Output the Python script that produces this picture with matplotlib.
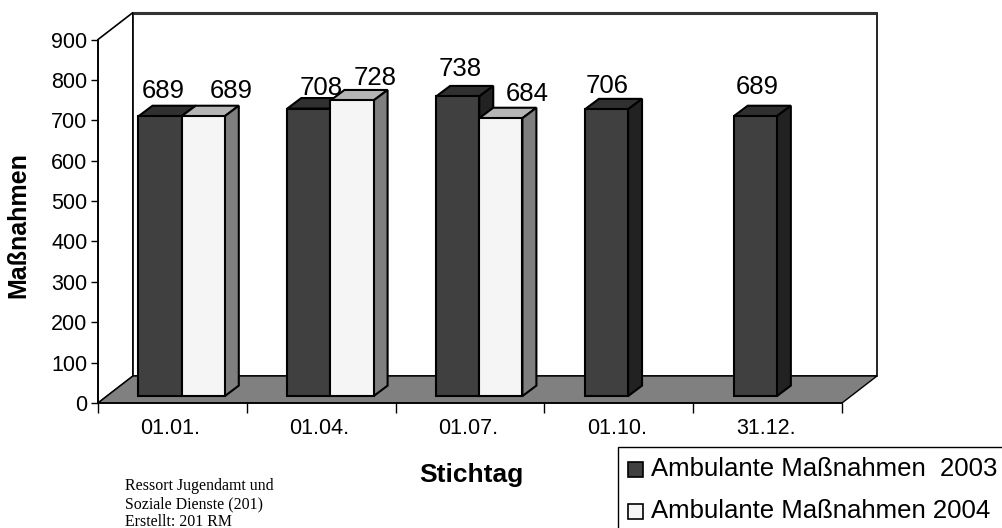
#!/usr/bin/env python3
import matplotlib
matplotlib.use("Agg")
import matplotlib.pyplot as plt
from matplotlib.patches import Polygon, Rectangle

categories = ["01.01.", "01.04.", "01.07.", "01.10.", "31.12."]
values_2003 = [689, 708, 738, 706, 689]
values_2004 = [689, 728, 684]
yticks = [0, 100, 200, 300, 400, 500, 600, 700, 800, 900]
legend_labels = ["Ambulante Maßnahmen  2003", "Ambulante Maßnahmen 2004"]
note_lines = ["Ressort Jugendamt und", "Soziale Dienste (201)", "Erstellt: 201 RM"]

# label nudges in pixels: (right, up) from the bar's top front centre
nudge_2003 = [(3, 18), (12.5, 14), (2.5, 20), (0.5, 16), (1.5, 22)]
nudge_2004 = [(28, 18), (23.5, 15), (26.5, 17)]

W, H = 1002, 528
LEFT, RIGHT, TOP, BOTTOM = 98, 842, 39.5, 403
DEPTH_X, DEPTH_Y = 35, 27

plt.rcParams["font.family"] = ["Liberation Sans", "DejaVu Sans"]

fig = plt.figure(figsize=(W / 100, H / 100), dpi=100)
ax = fig.add_axes([LEFT / W, 1 - BOTTOM / H, (RIGHT - LEFT) / W, (BOTTOM - TOP) / H])
ax.set_xlim(0, len(categories))
ax.set_ylim(0, 900)

px_x = (RIGHT - LEFT) / len(categories)
px_y = (BOTTOM - TOP) / 900


def shift(x, y, dx=0, dy=0):
    # pixel offset on top of data position, used for the fake 3D look
    return (x + dx / px_x, y + dy / px_y)


def poly(points, fc, lw=1.5, ec="black", z=3):
    ax.add_patch(Polygon(points, closed=True, fc=fc, ec=ec, lw=lw, zorder=z,
                         clip_on=False, joinstyle="miter"))


# walls and floor
poly([shift(0, 0), shift(0, 900), shift(0, 900, DEPTH_X, DEPTH_Y), shift(0, 0, DEPTH_X, DEPTH_Y)],
     "white", lw=1.2, z=1)
poly([shift(0, 0, DEPTH_X, DEPTH_Y), shift(0, 900, DEPTH_X, DEPTH_Y),
      shift(5, 900, DEPTH_X, DEPTH_Y), shift(5, 0, DEPTH_X, DEPTH_Y)], "white", lw=1.2, z=1)
poly([shift(0, 0), shift(5, 0), shift(5, 0, DEPTH_X, DEPTH_Y), shift(0, 0, DEPTH_X, DEPTH_Y)],
     "#808080", lw=1.0, z=2)
ax.plot([shift(0, 900, DEPTH_X, DEPTH_Y)[0], shift(5, 900, DEPTH_X, DEPTH_Y)[0]],
        [shift(0, 900, DEPTH_X, DEPTH_Y)[1]] * 2, color="#333333", lw=2.2, zorder=2,
        clip_on=False, solid_capstyle="butt")


def bar3d(x0, width, value, front, top, side):
    base = -4
    ox, oy = 8.5, 8.5
    bx, by = 14, 10.5
    x1 = x0 + width
    poly([shift(x0, value, ox, oy), shift(x0, value, ox + bx, oy + by),
          shift(x1, value, ox + bx, oy + by), shift(x1, value, ox, oy)], top)
    poly([shift(x1, base, ox, oy), shift(x1, base, ox + bx, oy + by),
          shift(x1, value, ox + bx, oy + by), shift(x1, value, ox, oy)], side)
    poly([shift(x0, base, ox, oy), shift(x1, base, ox, oy),
          shift(x1, value, ox, oy), shift(x0, value, ox, oy)], front)


BAR_START, BAR_W = 0.215, 0.29
for i, v in enumerate(values_2003):
    bar3d(i + BAR_START, BAR_W, v, "#404040", "#303030", "#222222")
    if i < len(values_2004):
        bar3d(i + BAR_START + BAR_W, BAR_W, values_2004[i], "#f5f5f5", "#b5b5b5", "#7f7f7f")

for i, v in enumerate(values_2003):
    dx, dy = nudge_2003[i]
    xc, yc = shift(i + BAR_START + BAR_W / 2, v, 8.5 + dx, 8.5 + dy)
    ax.text(xc, yc, str(v), ha="center", va="baseline", fontsize=18.5, zorder=5)
for i, v in enumerate(values_2004):
    dx, dy = nudge_2004[i]
    xc, yc = shift(i + BAR_START + BAR_W * 1.5, v, 8.5 + dx, 8.5 + dy)
    ax.text(xc, yc, str(v), ha="center", va="baseline", fontsize=18.5, zorder=5)

# axes
for s in ["top", "right"]:
    ax.spines[s].set_visible(False)
for s in ["left", "bottom"]:
    ax.spines[s].set_linewidth(1.2)
    ax.spines[s].set_zorder(4)
ax.set_yticks(yticks)
ax.set_xticks(range(len(categories) + 1))
ax.set_xticklabels([])
ax.set_xticks([i + 0.487 for i in range(len(categories))], categories, minor=True)
ax.tick_params(axis="y", length=5, width=1, labelsize=15.5, pad=2.5)
ax.tick_params(axis="x", which="major", length=7, width=1)
ax.tick_params(axis="x", which="minor", length=0, labelsize=15.5, pad=11)

# everything outside the axes is placed in figure pixels
over = fig.add_axes([0, 0, 1, 1], zorder=10)
over.set_xlim(0, W)
over.set_ylim(H, 0)
over.axis("off")

over.text(18.5, 225, "Maßnahmen", rotation=90, ha="center", va="center", fontsize=18, fontweight="bold")
over.text(471, 475, "Stichtag", ha="center", va="center", fontsize=19, fontweight="bold")

over.add_patch(Rectangle((618.5, 447), 500, 200, fc="white", ec="black", lw=1.0))
for y, label, color in zip([469, 511], legend_labels, ["#404040", "#f5f5f5"]):
    over.add_patch(Rectangle((628, y - 7.5), 15, 15, fc=color, ec="black", lw=1.2))
    over.text(651, y, label, ha="left", va="center", fontsize=18.5)

for y, line in zip([490, 508.5, 525.5], note_lines):
    over.text(125, y, line, ha="left", va="baseline", fontsize=11.4, family="Liberation Serif")

fig.savefig("out.png", dpi=100)
